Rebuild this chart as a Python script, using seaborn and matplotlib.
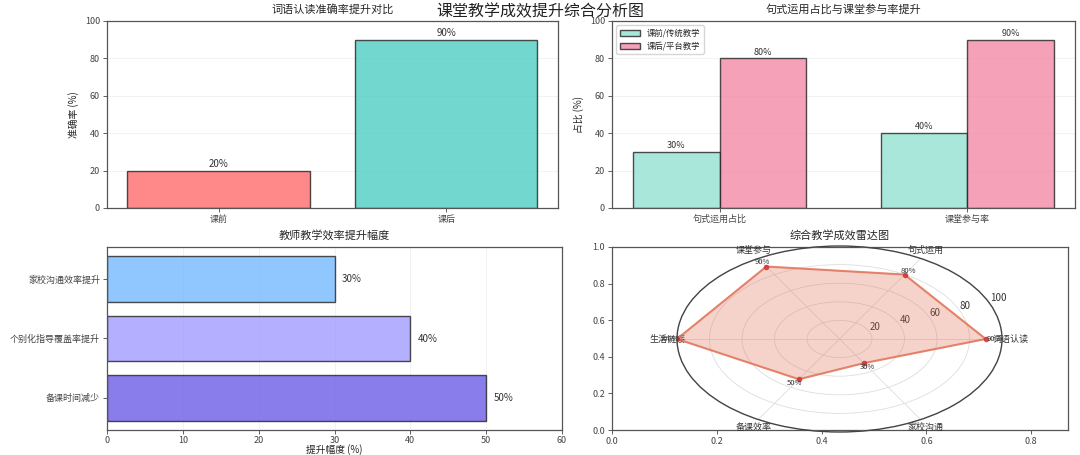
import numpy as np
import pandas as pd
import matplotlib
matplotlib.use("Agg")
import matplotlib.pyplot as plt
from matplotlib.ticker import MultipleLocator
import seaborn as sns

sns.set_style("white")
plt.rcParams['font.family'] = ['Noto Sans CJK SC', 'DejaVu Sans']
plt.rcParams['axes.unicode_minus'] = False

## data ##
word_labels = ['课前', '课后']
word_values = [20, 90]

sent_groups = ['句式运用占比', '课堂参与率']
sent_series = ['课前/传统教学', '课后/平台教学']
sent_before = [30, 40]
sent_after = [80, 90]

eff_labels = ['家校沟通效率提升', '个别化指导覆盖率提升', '备课时间减少']
eff_values = [30, 40, 50]

radar_labels = ['词语认读', '句式运用', '课堂参与', '生活链接', '备课效率', '家校沟通']
radar_values = [90, 80, 90, 100, 50, 30]

## figure ##
W, H = 1080, 455
fig = plt.figure(figsize=(W / 100, H / 100), dpi=100)


def px_rect(x0, y0, x1, y1):
    # pixel box (top-left origin) -> figure fraction rect
    return [x0 / W, 1 - y1 / H, (x1 - x0) / W, (y1 - y0) / H]


tick_fs = 6.5
title_fs = 8


def style_frame(ax):
    for s in ax.spines.values():
        s.set_visible(True)
        s.set_color('#555555')
        s.set_linewidth(0.9)
    ax.tick_params(labelsize=tick_fs, colors='#444444', length=3, width=0.6, pad=2,
                   left=True, bottom=True)


# 1. word recognition
ax1 = fig.add_axes(px_rect(107, 21, 558, 208))
sns.barplot(x=word_labels, y=word_values, hue=word_labels, palette=['#FF6B6B', '#4ECDC4'],
            saturation=1, alpha=0.8, edgecolor='#222222', linewidth=1, legend=False,
            width=0.8, ax=ax1)
for i, v in enumerate(word_values):
    ax1.text(i, v + 1, f'{v}%', ha='center', va='bottom', fontsize=7, color='#333333')
ax1.set_ylim(0, 100)
ax1.set_xlim(-0.49, 1.49)
ax1.set_ylabel('准确率 (%)', fontsize=7)
ax1.set_title('词语认读准确率提升对比', fontsize=title_fs, pad=6)
ax1.yaxis.grid(True, alpha=0.3, linewidth=0.6)
ax1.set_axisbelow(True)
style_frame(ax1)

# 2. sentence use & participation
df_sent = pd.DataFrame({
    'group': sent_groups * 2,
    'value': sent_before + sent_after,
    'series': [sent_series[0]] * len(sent_groups) + [sent_series[1]] * len(sent_groups),
})
ax2 = fig.add_axes(px_rect(612, 21, 1075, 208))
sns.barplot(data=df_sent, x='group', y='value', hue='series', palette=['#95E1D3', '#F38BA8'],
            saturation=1, alpha=0.8, edgecolor='#222222', linewidth=1, width=0.7, ax=ax2)
for cont in ax2.containers:
    for bar in cont:
        h = bar.get_height()
        ax2.text(bar.get_x() + bar.get_width() / 2, h + 1, f'{h:.0f}%',
                 ha='center', va='bottom', fontsize=6.5, color='#333333')
ax2.set_ylim(0, 100)
ax2.set_xlim(-0.435, 1.435)
ax2.set_xlabel('')
ax2.set_ylabel('占比 (%)', fontsize=7)
ax2.set_title('句式运用占比与课堂参与率提升', fontsize=title_fs, pad=6)
ax2.legend(loc='upper left', fontsize=6, frameon=True, handlelength=2.5)
ax2.yaxis.grid(True, alpha=0.3, linewidth=0.6)
ax2.set_axisbelow(True)
style_frame(ax2)

# 3. teacher efficiency
ax3 = fig.add_axes(px_rect(107, 247, 562, 430))
sns.barplot(x=eff_values, y=eff_labels, orient='h', hue=eff_labels,
            palette=['#74B9FF', '#A29BFE', '#6C5CE7'], saturation=1, alpha=0.8,
            edgecolor='#222222', linewidth=1, legend=False, width=0.77, ax=ax3)
for i, v in enumerate(eff_values):
    ax3.text(v + 1, i, f'{v}%', ha='left', va='center', fontsize=7, color='#333333')
ax3.set_xlim(0, 60)
ax3.set_ylim(2.54, -0.54)
ax3.set_ylabel('')
ax3.set_title('教师教学效率提升幅度', fontsize=title_fs, pad=6)
ax3.xaxis.grid(True, alpha=0.3, linewidth=0.6)
ax3.set_axisbelow(True)
style_frame(ax3)
ax3.tick_params(axis='x', pad=1)
ax3.set_xlabel('提升幅度 (%)', fontsize=7, labelpad=0)

# 4. radar (on top of an empty cartesian frame)
ax4 = fig.add_axes(px_rect(612, 247, 1068, 430))
ax4.set_xlim(0, 0.87)
ax4.set_ylim(0, 1)
ax4.xaxis.set_major_locator(MultipleLocator(0.2))
ax4.yaxis.set_major_locator(MultipleLocator(0.2))
ax4.set_title('综合教学成效雷达图', fontsize=title_fs, pad=6)
style_frame(ax4)

ax5 = fig.add_axes(px_rect(677, 246, 1002, 432), polar=True)
ax5.set_aspect('auto')
angles = np.linspace(0, 2 * np.pi, len(radar_labels), endpoint=False)
ang_c = np.append(angles, angles[0])
val_c = np.append(radar_values, radar_values[0])
ax5.fill(ang_c, val_c, color='#E17055', alpha=0.3)
ax5.plot(ang_c, val_c, '-', color='#E17055', alpha=0.8, linewidth=1.5)
ax5.plot(angles, radar_values, 'o', color='#D63031', markersize=3, alpha=0.8)
for a, v in zip(angles, radar_values):
    ax5.text(a, v + 5, f'{v}%', ha='center', va='center', fontsize=5.5, color='#333333')
ax5.set_xticks(angles)
ax5.set_xticklabels(radar_labels, fontsize=6.5, color='#333333')
ax5.set_ylim(0, 100)
ax5.set_yticks([20, 40, 60, 80, 100])
ax5.set_yticklabels(['20', '40', '60', '80', '100'], fontsize=7, color='#333333')
ax5.tick_params(axis='x', pad=-4)
ax5.grid(True, color='#dddddd', linewidth=0.6)
ax5.spines['polar'].set_color('#444444')
ax5.spines['polar'].set_linewidth(1)
ax5.patch.set_alpha(0)

fig.suptitle('课堂教学成效提升综合分析图', fontsize=11.5, y=1 - 12 / H, va='center', color='#222222')

fig.savefig('out.png', dpi=100)
